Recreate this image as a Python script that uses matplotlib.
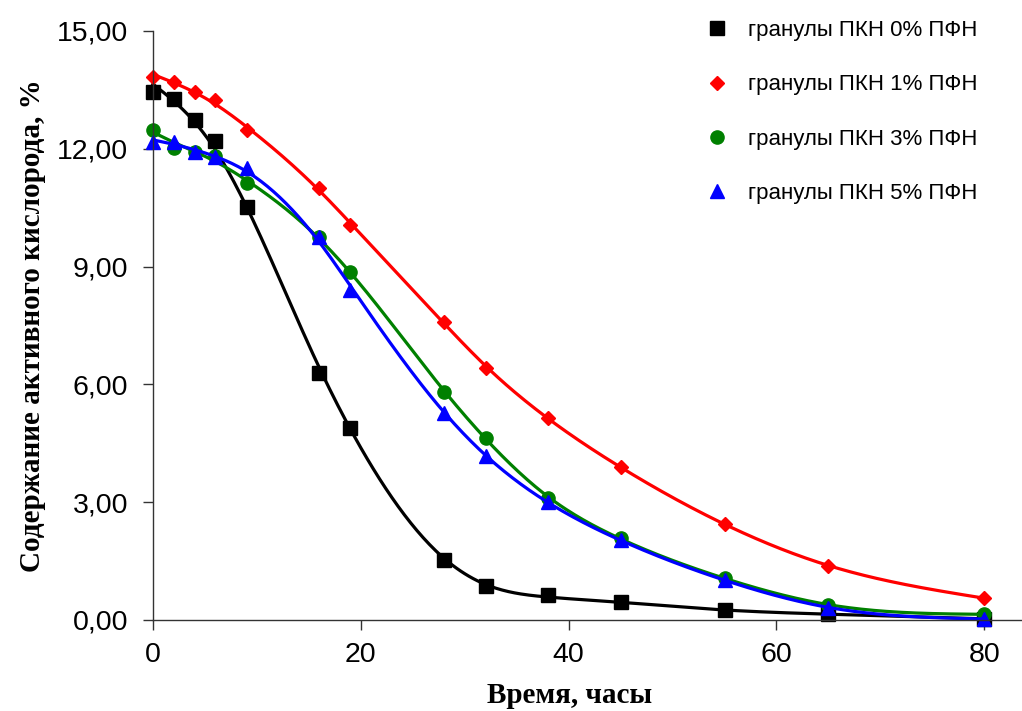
import matplotlib
matplotlib.use('Agg')
import matplotlib.pyplot as plt
import numpy as np

# время, часы
hours = [0, 2, 4, 6, 9, 16, 19, 28, 32, 38, 45, 55, 65, 80]

# содержание активного кислорода, %
pfn0 = [13.45, 13.27, 12.73, 12.20, 10.52, 6.29, 4.89, 1.53, 0.87, 0.64, 0.46, 0.25, 0.15, 0.03]
pfn1 = [13.83, 13.70, 13.45, 13.24, 12.48, 11.00, 10.06, 7.59, 6.42, 5.14, 3.90, 2.44, 1.38, 0.56]
pfn3 = [12.48, 12.02, 11.92, 11.82, 11.13, 9.75, 8.86, 5.81, 4.63, 3.10, 2.09, 1.07, 0.38, 0.15]
pfn5 = [12.17, 12.17, 11.92, 11.79, 11.50, 9.75, 8.40, 5.27, 4.18, 3.00, 2.04, 1.02, 0.31, 0.03]

labels = ['гранулы ПКН 0% ПФН', 'гранулы ПКН 1% ПФН',
          'гранулы ПКН 3% ПФН', 'гранулы ПКН 5% ПФН']
colors = ['black', '#ff0000', '#008000', '#0000ff']
markers = ['s', 'D', 'o', '^']
msizes = [10, 7.5, 9.5, 9.5]


def smooth_curve(x, y, lam=1.0, n=401):
    # сглаживающая кривая (штраф на вторую производную)
    g = np.linspace(x.min(), x.max(), n)
    h = g[1] - g[0]
    B = np.zeros((len(x), n))
    for i, xi in enumerate(x):
        j = min(int((xi - g[0]) / h), n - 2)
        t = (xi - g[j]) / h
        B[i, j] = 1 - t
        B[i, j + 1] = t
    D = np.diff(np.eye(n), 2, axis=0) / h ** 2
    A = B.T @ B + lam * h * D.T @ D
    f = np.linalg.solve(A, B.T @ y)
    return g, f


fig = plt.figure(figsize=(10.22, 7.11), dpi=100)
ax = fig.add_axes([0.1497, 0.128, 0.849, 0.8284])

x = np.array(hours, dtype=float)
handles = []
for ys, c, m, ms, lab in zip([pfn0, pfn1, pfn3, pfn5], colors, markers, msizes, labels):
    gx, gy = smooth_curve(x, np.array(ys), lam=15.0)
    ax.plot(gx, gy, color=c, linewidth=2.3, clip_on=False)
    h, = ax.plot(x, ys, linestyle='none', marker=m, markersize=ms, color=c,
                 markeredgecolor=c, clip_on=False, label=lab)
    handles.append(h)

ax.set_xlim(0, 83.5)
ax.set_ylim(0, 15)
ax.set_xticks([0, 20, 40, 60, 80])
yt = [0, 3, 6, 9, 12, 15]
ax.set_yticks(yt)
ax.set_yticklabels([('%.2f' % v).replace('.', ',') for v in yt])

for s in ['top', 'right']:
    ax.spines[s].set_visible(False)
for s in ['left', 'bottom']:
    ax.spines[s].set_linewidth(1.0)
    ax.spines[s].set_color('#333333')
ax.tick_params(direction='out', length=7, width=1, color='#333333',
               labelsize=20.5)
ax.tick_params(axis='y', pad=11)
ax.tick_params(axis='x', pad=9)
for t in ax.get_xticklabels() + ax.get_yticklabels():
    t.set_family('Liberation Sans')

ax.set_ylabel('Содержание активного кислорода, %', family='Liberation Serif',
              fontweight='bold', fontsize=21, labelpad=8)
ax.set_xlabel('Время, часы', family='Liberation Serif',
              fontweight='bold', fontsize=21)
ax.xaxis.set_label_coords(0.48, -0.105)

fig.legend(handles=handles, loc='upper left', bbox_to_anchor=(0.671, 1.0),
           frameon=False, numpoints=1, handlelength=1.0, handletextpad=0.9,
           labelspacing=1.5, prop={'family': 'Liberation Sans', 'size': 16})

fig.savefig('out.png', dpi=100)
